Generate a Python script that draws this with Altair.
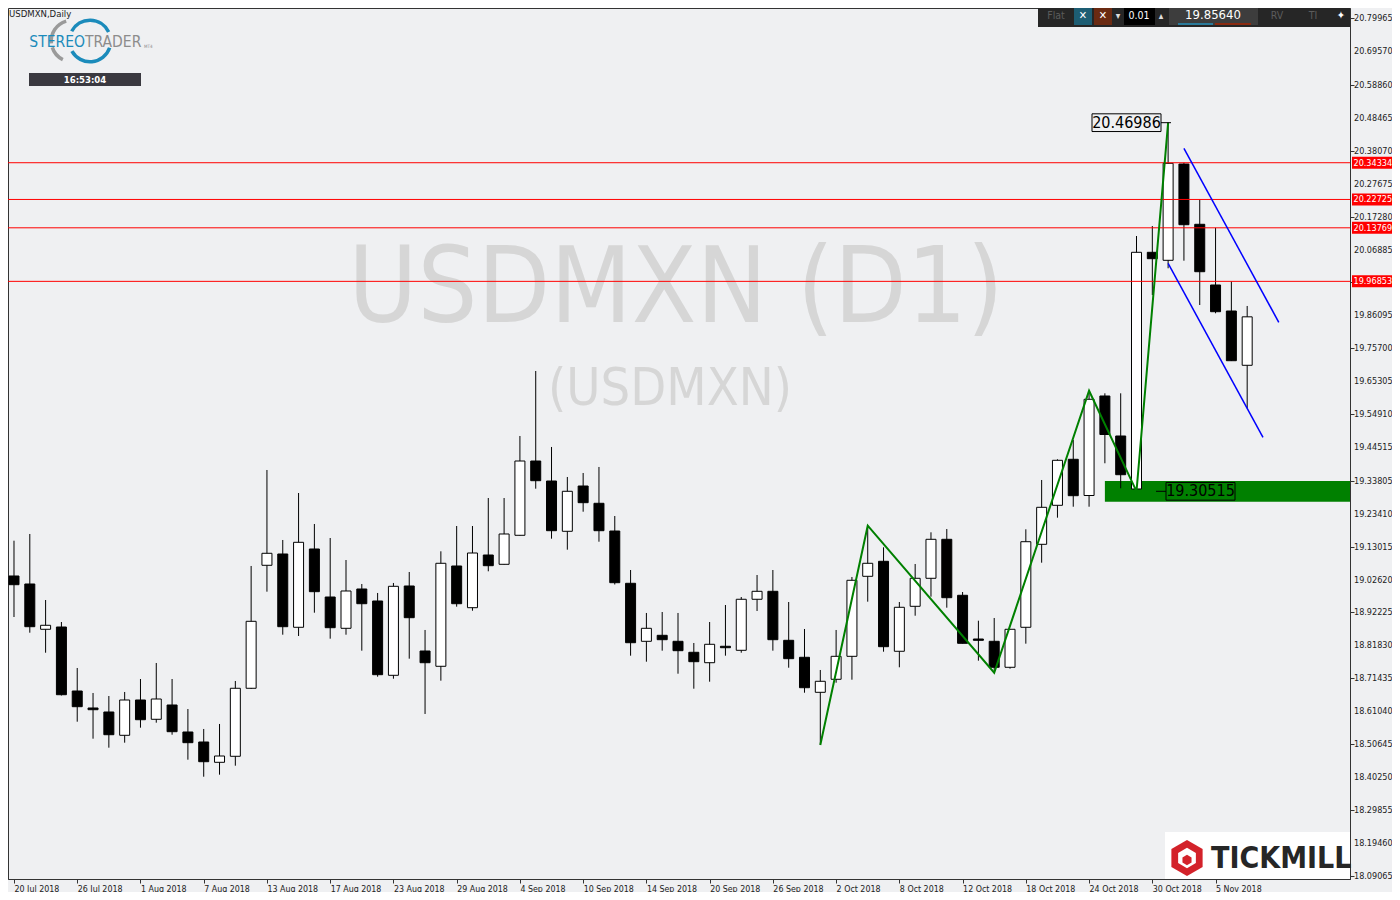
import altair as alt
import pandas as pd

# ---------------- data ----------------
opens = [19.0376, 19.0123, 18.8692, 18.8764, 18.6742, 18.6205, 18.6079, 18.5342, 18.6458, 18.5848,
         18.6300, 18.5447, 18.5131, 18.4489, 18.4679, 18.6828, 19.0714, 19.1071, 18.8755, 19.1229,
         18.9712, 18.8723, 18.9965, 18.9586, 18.7238, 19.0060, 18.8006, 18.7523, 19.0692, 18.9374,
         19.1039, 19.0745, 19.1662, 19.4009, 19.3377, 19.1788, 19.3219, 19.2673, 19.1797, 19.0145,
         18.8312, 18.8502, 18.8312, 18.7965, 18.7636, 18.8155, 18.8028, 18.9640, 18.9892, 18.8344,
         18.7807, 18.6701, 18.7112, 18.7838, 19.0366, 19.0840, 18.7997, 18.9418, 19.0303, 19.1535,
         18.9766, 18.8385, 18.8312, 18.7491, 18.8755, 19.1377, 19.2609, 19.4063, 19.2919, 19.6063,
         19.4799, 19.3125, 20.0603, 20.0350, 20.3393, 20.1488, 19.9570, 19.8748, 19.7033]
highs = [19.1491, 19.1703, 18.9617, 18.8922, 18.7469, 18.6679, 18.6584, 18.6711, 18.7121, 18.7627,
         18.7121, 18.6173, 18.5542, 18.5700, 18.7058, 19.0692, 19.3725, 19.1513, 19.2998, 19.2019,
         19.1576, 19.0881, 19.0123, 18.9839, 19.0155, 19.0502, 18.8670, 19.1156, 19.1955, 19.1955,
         19.2840, 19.2840, 19.4799, 19.6853, 19.4452, 19.3504, 19.3630, 19.3820, 19.2271, 19.0565,
         18.9207, 18.9238, 18.9207, 18.8259, 18.8922, 18.9459, 18.9712, 19.0407, 19.0565, 18.9554,
         18.8701, 18.7406, 18.8670, 19.0344, 19.1965, 19.1282, 18.9554, 19.0755, 19.1756, 19.1861,
         18.9870, 18.8963, 18.9049, 18.8701, 19.1851, 19.3409, 19.4063, 19.4673, 19.6230, 19.6148,
         19.6148, 20.1118, 20.1434, 20.46986, 20.34334, 20.22725, 20.13769, 19.96853, 19.8907]
lows = [18.9080, 18.8584, 18.7952, 18.6600, 18.5772, 18.5235, 18.4951, 18.5109, 18.5583, 18.5741,
        18.5361, 18.4572, 18.4034, 18.4098, 18.4382, 18.6805, 18.9880, 18.8521, 18.8480, 18.9216,
        18.8395, 18.8521, 18.8016, 18.7194, 18.7131, 18.7763, 18.6016, 18.7068, 18.9406, 18.9279,
        19.0524, 19.0739, 19.1655, 19.3134, 19.1554, 19.1207, 19.2407, 19.1459, 19.0107, 18.7858,
        18.7668, 18.8016, 18.7289, 18.6815, 18.7036, 18.7858, 18.7952, 18.9270, 18.8016, 18.7478,
        18.6688, 18.5036, 18.7004, 18.7099, 18.9564, 18.7984, 18.7491, 18.9121, 18.9722, 18.9374,
        18.8243, 18.7700, 18.7320, 18.7447, 18.8237, 19.0796, 19.2218, 19.2565, 19.2565, 19.3937,
        19.3147, 19.30515, 19.9254, 20.0098, 20.0338, 19.8938, 19.8676, 19.7168, 19.5674]
closes = [19.0101, 18.8774, 18.8818, 18.6625, 18.6246, 18.6151, 18.5361, 18.6458, 18.5835, 18.6489,
          18.5456, 18.5109, 18.4508, 18.4688, 18.6828, 18.8944, 19.1093, 18.8774, 19.1440, 18.9880,
          18.8742, 18.9902, 18.9500, 18.7257, 19.0050, 18.9058, 18.7636, 19.0777, 18.9500, 19.1102,
          19.0701, 19.1703, 19.4009, 19.3387, 19.1807, 19.3052, 19.2692, 19.1807, 19.0164, 18.8268,
          18.8723, 18.8363, 18.8016, 18.7668, 18.8218, 18.8110, 18.9640, 18.9892, 18.8363, 18.7763,
          18.6846, 18.7049, 18.7838, 19.0240, 19.0777, 18.8142, 18.9387, 19.0303, 19.1535, 18.9690,
          18.8249, 18.8344, 18.7491, 18.8692, 19.1459, 19.2546, 19.4031, 19.2913, 19.5959, 19.4846,
          19.3576, 20.0603, 20.0401, 20.3415, 20.1475, 19.9990, 19.8726, 19.7178, 19.8564]

xtick_pos = [0, 4, 8, 12, 16, 20, 24, 28, 32, 36, 40, 44, 48, 52, 56, 60, 64, 68, 72, 76]
xlabels = ["20 Jul 2018", "26 Jul 2018", "1 Aug 2018", "7 Aug 2018", "13 Aug 2018", "17 Aug 2018",
           "23 Aug 2018", "29 Aug 2018", "4 Sep 2018", "10 Sep 2018", "14 Sep 2018", "20 Sep 2018",
           "26 Sep 2018", "2 Oct 2018", "8 Oct 2018", "12 Oct 2018", "18 Oct 2018", "24 Oct 2018",
           "30 Oct 2018", "5 Nov 2018"]
ytick_values = [20.79965, 20.69570, 20.58860, 20.48465, 20.38070, 20.27675, 20.17280, 20.06885,
                19.96490, 19.86095, 19.75700, 19.65305, 19.54910, 19.44515, 19.33805, 19.23410,
                19.13015, 19.02620, 18.92225, 18.81830, 18.71435, 18.61040, 18.50645, 18.40250,
                18.29855, 18.19460, 18.09065]

levels = [20.34334, 20.22725, 20.13769, 19.96853]
zz_bars = [51, 54, 62, 68, 71, 73]
zz_prices = [lows[51], highs[54], lows[62], highs[68], lows[71], highs[73]]
ch_bars = [74, 80, 73, 79]
ch_prices = [20.3889, 19.8391, 20.0256, 19.4758]
ch_group = ["upper", "upper", "lower", "lower"]
zone_start = 69
zone_top = 19.3377
zone_bottom = 19.2723
hi_label = 20.46986
lo_label = 19.30515
current_price = "19.85640"

# ---------------- styling ----------------
X_DOM = [-0.0625, 84.1875]
Y_DOM = [18.0802, 20.8322]
W, H = 1342, 871
BG = "#eff0f2"
FONT = "DejaVu Sans Condensed, DejaVu Sans, sans-serif"

df = pd.DataFrame({"i": list(range(len(opens))), "o": opens, "h": highs, "l": lows, "c": closes})
df["dir"] = ["up" if c >= o else "down" for o, c in zip(opens, closes)]

xs = alt.Scale(domain=X_DOM, nice=False, zero=False)
ys = alt.Scale(domain=Y_DOM, nice=False, zero=False)

label_expr = "[" + ",".join("'%s'" % s for s in xlabels) + "][round(datum.value/4)]"
xaxis = alt.Axis(values=xtick_pos, labelExpr=label_expr, title=None)
yaxis = alt.Axis(orient="right", values=ytick_values, labels=False, title=None)

one = pd.DataFrame({"k": [0]})


def txt(x, y, s, size, color, align="center", weight="normal", baseline="middle", font=FONT):
    return alt.Chart(one).mark_text(text=s, fontSize=size, color=color, align=align,
                                    baseline=baseline, fontWeight=weight, font=font).encode(
        x=alt.value(x), y=alt.value(y))


def box(x1, x2, y1, y2, fill, stroke=None):
    kw = dict(fill=fill)
    if stroke:
        kw.update(stroke=stroke, strokeWidth=1)
    return alt.Chart(one).mark_rect(**kw).encode(
        x=alt.value(x1), x2=alt.value(x2), y=alt.value(y1), y2=alt.value(y2))


def arc(cx, cy, t1, t2, color):
    return alt.Chart(one).mark_arc(radius=22.5, radius2=19, theta=t1, theta2=t2, color=color).encode(
        x=alt.value(cx), y=alt.value(cy))


# watermark
wm1 = txt(668, 314, "USDMXN (D1)", 105, "#d6d6d6", baseline="alphabetic")
wm2 = txt(662, 397, "(USDMXN)", 52, "#d6d6d6", baseline="alphabetic")

# green support zone
zone = alt.Chart(pd.DataFrame({"s": [zone_start], "t": [zone_top], "b": [zone_bottom]})).mark_rect(
    color="#008000").encode(x=alt.X("s:Q", scale=xs), x2=alt.value(W), y=alt.Y("t:Q", scale=ys), y2="b:Q")

base = alt.Chart(df)
wicks = base.mark_rule(color="black", strokeWidth=1).encode(
    x=alt.X("i:Q", scale=xs, axis=xaxis),
    y=alt.Y("l:Q", scale=ys, axis=yaxis),
    y2="h:Q")
bodies = base.mark_bar(size=10, stroke="black", strokeWidth=1).encode(
    x="i:Q", y="o:Q", y2="c:Q",
    fill=alt.Fill("dir:N", scale=alt.Scale(domain=["up", "down"], range=["white", "black"]), legend=None))

# price-axis labels
ylab = alt.Chart(pd.DataFrame({"v": ytick_values, "t": ["%.5f" % v for v in ytick_values]})).mark_text(
    align="left", baseline="middle", font=FONT, fontSize=9, color="#222222").encode(
    x=alt.value(1346), y="v:Q", text="t:N")

lv = alt.Chart(pd.DataFrame({"p": levels, "t": ["%.5f" % v for v in levels]}))
red_lines = lv.mark_rule(color="#ff0000", strokeWidth=1).encode(y="p:Q")
red_boxes = lv.mark_tick(orient="horizontal", thickness=12, size=40, color="#ff0000", opacity=1).encode(
    x=alt.value(1364), y="p:Q")
red_text = lv.mark_text(align="left", baseline="middle", color="white", font=FONT, fontSize=9).encode(
    x=alt.value(1345.5), y="p:Q", text="t:N")

zigzag = alt.Chart(pd.DataFrame({"i": zz_bars, "p": zz_prices, "n": list(range(len(zz_bars)))})).mark_line(
    color="#008000", strokeWidth=2).encode(x="i:Q", y="p:Q", order="n:Q")

channel = alt.Chart(pd.DataFrame({"i": ch_bars, "p": ch_prices, "g": ch_group})).mark_line(
    color="#0000ff", strokeWidth=1.5).encode(x="i:Q", y="p:Q", detail="g:N")

# price annotations
ann = alt.Chart(pd.DataFrame({"p": [hi_label], "t": ["%.5f" % hi_label]}))
hi_box = ann.mark_rect(fill=BG, stroke="black", strokeWidth=1).transform_calculate(
    a="datum.p + 0.028", b="datum.p - 0.028").encode(
    x=alt.value(1084), x2=alt.value(1153), y="a:Q", y2="b:Q")
hi_tick = ann.mark_rule(color="black").encode(x=alt.value(1153), x2=alt.value(1163), y="p:Q")
hi_text = ann.mark_text(fontSize=16, font=FONT, color="black").encode(
    x=alt.value(1118.5), y="p:Q", text="t:N")

annl = alt.Chart(pd.DataFrame({"p": [lo_label], "t": ["%.5f" % lo_label]}))
lo_box = annl.mark_rect(fill="#008000", stroke="black", strokeWidth=1).transform_calculate(
    a="datum.p + 0.028", b="datum.p - 0.028").encode(
    x=alt.value(1158), x2=alt.value(1227), y="a:Q", y2="b:Q")
lo_tick = annl.mark_rule(color="black").encode(x=alt.value(1148), x2=alt.value(1158), y="p:Q")
lo_text = annl.mark_text(fontSize=16, font=FONT, color="black").encode(
    x=alt.value(1192.5), y="p:Q", text="t:N")

# top-left header and logo
header = txt(1, 1, "USDMXN,Daily", 9.5, "#222222", align="left", baseline="top")
logo_arcs = [arc(64, 33, 4.6, 6.0, "#9a9a9a"), arc(64, 33, 3.6, 4.4, "#9a9a9a"),
             arc(82, 33, 5.2, 7.4, "#1b8bbb"), arc(82, 33, 1.9, 4.2, "#1b8bbb")]
logo1 = txt(77, 34, "STEREO", 15.5, "#1b8bbb", align="right")
logo2 = txt(77, 34, "TRADER", 15.5, "#8c8c8c", align="left")
logo3 = txt(136, 39, "MT4", 4.5, "#8c8c8c", align="left")
clock_box = box(21, 133, 65, 78, "#3a3940")
clock = txt(77, 71.5, "16:53:04", 9.5, "white", weight="bold")

# top-right trading toolbar
tb = [
    box(1030, 1342, 0, 19, "#262626"),
    txt(1048, 8, "Flat", 10.5, "#5c5c5c"),
    box(1066, 1084, 0, 17, "#1d5d73"),
    txt(1075, 8, "✕", 11, "white", weight="bold"),
    box(1086, 1104, 0, 17, "#6a2a12"),
    txt(1095, 8, "✕", 11, "white", weight="bold"),
    txt(1110, 8, "▾", 10, "#dddddd"),
    box(1116, 1147, 0, 17, "#000000"),
    txt(1131, 8, "0.01", 10.5, "white"),
    txt(1153, 8, "▴", 10, "#dddddd"),
    box(1161, 1250, 0, 17, "#3d3d3d"),
    txt(1205, 7, current_price, 13, "white"),
    box(1170, 1205, 15, 17, "#2a7a9a"),
    box(1207, 1243, 15, 17, "#8a2a10"),
    txt(1269, 8, "RV", 10.5, "#5c5c5c"),
    txt(1305, 8, "TI", 10.5, "#5c5c5c"),
    txt(1333, 8, "✦", 11, "white"),
]

# bottom-right broker logo
HEX = "M0,-1L0.866,-0.5L0.866,0.5L0,1L-0.866,0.5L-0.866,-0.5Z"
tm = [
    box(1157, 1342, 824, 871, "white"),
    alt.Chart(one).mark_point(shape=HEX, size=1300, filled=True, color="#d3222a", opacity=1).encode(
        x=alt.value(1179), y=alt.value(850)),
    alt.Chart(one).mark_point(shape=HEX, size=420, filled=True, color="white", opacity=1).encode(
        x=alt.value(1179), y=alt.value(850)),
    alt.Chart(one).mark_point(shape=HEX, size=110, filled=True, color="#d3222a", opacity=1).encode(
        x=alt.value(1179), y=alt.value(852)),
    txt(1203, 851, "TICKMILL", 30, "#262626", align="left", weight="bold"),
]

layers = [wm1, wm2, zone, wicks, bodies, red_lines, zigzag, channel,
          hi_box, hi_tick, hi_text, lo_box, lo_tick, lo_text,
          header] + logo_arcs + [logo1, logo2, logo3, clock_box, clock] + tb + tm + [ylab, red_boxes, red_text]

chart = alt.layer(*layers).properties(
    width=W, height=H, background=BG,
    autosize=alt.AutoSizeParams(type="none"),
    padding={"left": 0, "top": 0, "right": 42, "bottom": 13},
).configure_view(
    stroke="#333333", strokeWidth=1, fill=BG
).configure_axis(
    grid=False, labelOverlap=False, labelFlush=False, labelBound=False,
    tickColor="#333333", domainColor="#333333", labelColor="#222222", labelFont=FONT,
    tickSize=4,
).configure_axisX(
    labelAlign="left", labelPadding=1, labelFontSize=8.8, labelBaseline="top",
)

chart.save("out.html", embed_options={"renderer": "svg", "actions": False})
